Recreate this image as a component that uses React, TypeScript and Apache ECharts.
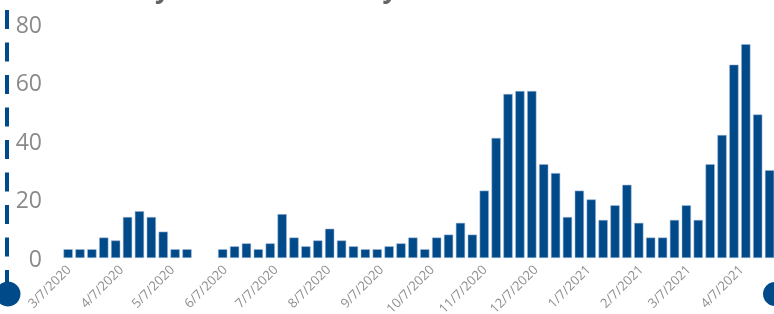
import React, { useEffect, useRef } from "react";
import * as echarts from "echarts";

const startWeek = [2020, 2, 7]; // first weekly bar: 3/7/2020
const weeklyCases = [
  3, 3, 3, 7, 6, 14, 16, 14, 9, 3, 3, 0, 0, 3, 4, 5, 3, 5, 15, 7,
  4, 6, 10, 6, 4, 3, 3, 4, 5, 7, 3, 7, 8, 12, 8, 23, 41, 56, 57, 57,
  32, 29, 14, 23, 20, 13, 18, 25, 12, 7, 7, 13, 18, 13, 32, 42, 66, 73, 49, 30,
];
const tickDates = [
  [2020, 2, 7], [2020, 3, 7], [2020, 4, 7], [2020, 5, 7], [2020, 6, 7],
  [2020, 7, 7], [2020, 8, 7], [2020, 9, 7], [2020, 10, 7], [2020, 11, 7],
  [2021, 0, 7], [2021, 1, 7], [2021, 2, 7], [2021, 3, 7],
];
const yTicks = [0, 20, 40, 60, 80];
const titleText = "Weekly Positive Cases by Week";

const DAY = 86400000;
const BLUE = "#004a8a";

export default function App() {
  const ref = useRef<HTMLDivElement>(null);
  useEffect(() => {
    if (!ref.current) return;
    const chart = echarts.init(ref.current, null, { renderer: "svg" });
    const t0 = new Date(startWeek[0], startWeek[1], startWeek[2]).getTime();
    const data = weeklyCases.map((v, i) => [t0 + i * 7 * DAY, v === 0 ? null : v]);
    const min = t0 - 0.65 * DAY;
    const max = min + 416.25 * DAY;
    const ticks = tickDates.map((d) => new Date(d[0], d[1], d[2]).getTime());
    chart.setOption({
      animation: false,
      grid: {
        left: 67,
        right: 0,
        top: 23.6,
        bottom: 56,
        containLabel: false,
        outerBoundsMode: "none",
      },
      xAxis: {
        type: "value",
        min,
        max,
        scale: true,
        axisLine: { show: false },
        axisTick: { show: false },
        splitLine: { show: false },
        axisLabel: {
          customValues: ticks,
          rotate: 45,
          margin: 9,
          color: "#8f8f8f",
          fontSize: 13,
          fontFamily: "Open Sans",
          showMinLabel: true,
          showMaxLabel: true,
          formatter: (val: number) => {
            const d = new Date(val);
            return `${d.getMonth() + 1}/${d.getDate()}/${d.getFullYear()}`;
          },
        },
      },
      yAxis: {
        type: "value",
        min: yTicks[0],
        max: yTicks[yTicks.length - 1],
        interval: yTicks[1] - yTicks[0],
        axisLine: { show: false },
        axisTick: { show: false },
        splitLine: { show: false },
        axisLabel: {
          margin: 25,
          color: "#8a8a8a",
          fontSize: 23,
          fontFamily: "Open Sans",
          padding: [0, 0, 12, 0],
        },
      },
      series: [
        {
          type: "bar",
          data,
          clip: true,
          barWidth: 9.3,
          itemStyle: { color: BLUE, borderColor: "rgba(160,185,215,0.9)", borderWidth: 0.6 },
        },
      ],
      graphic: [
        {
          type: "text",
          x: 75,
          y: 1,
          style: {
            text: titleText,
            fontSize: 26,
            fontWeight: "bold",
            fontFamily: "Open Sans",
            fill: "#666666",
            verticalAlign: "bottom",
          },
        },
        {
          type: "line",
          shape: { x1: 7, y1: 10, x2: 7, y2: 290 },
          style: { stroke: BLUE, lineWidth: 4, lineDash: [19, 13.5] },
        },
        { type: "circle", shape: { cx: 8, cy: 294, r: 12.5 }, style: { fill: BLUE } },
        { type: "circle", shape: { cx: 775, cy: 294, r: 12 }, style: { fill: BLUE } },
      ],
    });
    return () => chart.dispose();
  }, []);
  return (
    <div
      ref={ref}
      style={{ position: "fixed", left: 0, top: 0, width: 774, height: 314 }}
    />
  );
}
